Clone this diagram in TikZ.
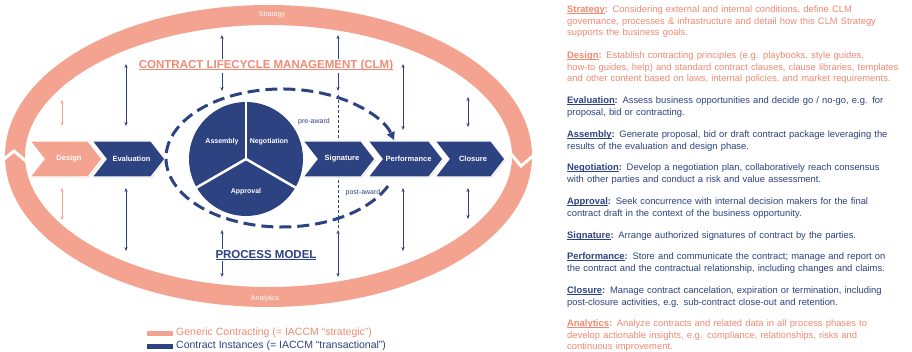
\documentclass[tikz,border=0pt]{standalone}
\usepackage{fontspec}
\setmainfont{Liberation Sans}
\usetikzlibrary{arrows.meta,shadows}

\definecolor{clmblue}{RGB}{45,66,128}
\definecolor{clmband}{RGB}{243,163,144}
\definecolor{clmrose}{RGB}{240,138,115}

% underline set just below the baseline
\newcommand\clmul[2][0.6pt]{\leavevmode\setbox0=\hbox{#2}\rlap{\rule[-1.4pt]{\wd0}{#1}}\box0}

% one chevron of the process row: #1 node name, #2 left x, #3 tip x, #4 fill, #5 label
\newcommand\clmstep[5]{%
  \path[stepshape, fill=#4] (#2,141) -- ({#3-14},141) -- (#3,159) -- ({#3-14},177)
        -- (#2,177) -- ({#2+14},159) -- cycle;
  \node[steplabel] (#1) at ({(#2+#3)/2+3},159) {#5};
}

\begin{document}
\begin{tikzpicture}[x=1pt,y=-1pt,
  stepshape/.style={draw=white, line width=1.2pt,
    drop shadow={shadow xshift=0.8pt, shadow yshift=-1.2pt, opacity=0.25}},
  steplabel/.style={text=white, font=\fontsize{7.5}{8.5}\selectfont\bfseries, inner sep=0pt},
  pielabel/.style={text=white, font=\fontsize{7}{8}\selectfont\bfseries, inner sep=0pt},
  small/.style={font=\fontsize{7}{8}\selectfont, inner sep=0pt},
  link/.style={<->, >={Stealth[length=4pt,width=3.2pt]}, line width=0.8pt, draw=clmblue},
  linkrose/.style={link, draw=clmband},
  flow/.style={draw=clmblue, line width=3pt, dash pattern=on 12pt off 6pt,
    -{Triangle[length=8pt,width=8pt]}},
  divider/.style={draw=clmblue, line width=0.7pt, dash pattern=on 3pt off 2pt},
  heading/.style={font=\fontsize{11.5}{13}\selectfont\bfseries, inner sep=1.5pt, fill=white},
  para/.style={anchor=base west, text width=350pt, align=left, inner sep=0pt,
    font=\fontsize{9.4}{11.6}\selectfont},
  legend/.style={anchor=west, inner sep=0pt, font=\fontsize{10.5}{12}\selectfont}]

\fill[white] (0,0) rectangle (912,352);
\useasboundingbox (0,0) rectangle (912,352);

% outer strategic cycle
\draw[clmband, line width=20pt] (268.5,156) ellipse [x radius=253.5, y radius=141];
\draw[white, line width=3pt] (3,160) -- (14,151) -- (27,162);
\draw[white, line width=3pt] (511,154) -- (521,166) -- (534,155);
\node[small, text=white] (strategy) at (272,15) {Strategy};
\node[small, text=white] (analytics) at (265,299) {Analytics};

% pre-award / post-award divider
\coordinate (div-a) at (338,95);
\coordinate (div-b) at (338,228);
\draw[divider] (div-a) -- (div-b);

% process row
\clmstep{design}{30}{102}{clmband}{Design}
\clmstep{evaluation}{92}{165}{clmblue}{Evaluation}
\clmstep{signature}{303}{375}{clmblue}{Signature}
\clmstep{performance}{368}{443}{clmblue}{Performance}
\clmstep{closure}{435}{505}{clmblue}{Closure}

% pie of the negotiation loop
\node[circle, fill=clmblue, minimum size=114pt, inner sep=0pt] (pie) at (246,159) {};
\draw[white, line width=2.5pt] (pie.center) -- (pie.90);
\draw[white, line width=2.5pt] (pie.center) -- (pie.210);
\draw[white, line width=2.5pt] (pie.center) -- (pie.330);
\node[pielabel] (assembly) at (222,142) {Assembly};
\node[pielabel] (negotiation) at (269,142) {Negotiation};
\node[pielabel] (approval) at (246,192) {Approval};

% iteration loop running into performance
\coordinate (loop-c) at (282,158);
\draw[flow] (loop-c) ++(24:116 and 69) arc[start angle=24, end angle=345, x radius=116, y radius=69];
\node[small, text=clmblue] (preaward) at (314,122) {pre-award};
\node[small, text=clmblue] (postaward) at (363,193) {post-award};

% vertical links to the strategic cycle
\foreach \nm/\x/\ya/\yb in {evtop/126/64/126, evbot/126/188/251, pietop/222/35/91,
    piebot/222/230/277, sigtop/338/35/91, sigbot/338/230/277, perftop/403/64/130,
    perfbot/403/188/251, clotop/468/97/127, clobot/468/188/219} {
  \coordinate (\nm-a) at (\x,\ya);
  \coordinate (\nm-b) at (\x,\yb);
  \draw[link] (\nm-a) -- (\nm-b);
}
\foreach \nm/\x/\ya/\yb in {destop/62/100/126, desbot/62/188/220} {
  \coordinate (\nm-a) at (\x,\ya);
  \coordinate (\nm-b) at (\x,\yb);
  \draw[linkrose] (\nm-a) -- (\nm-b);
}

% titles
\node[heading, text=clmrose] (clm) at (266,66) {\clmul[0.9pt]{CONTRACT LIFECYCLE MANAGEMENT (CLM)}};
\node[heading, text=clmblue] (model) at (266,255) {\clmul[0.9pt]{PROCESS MODEL}};

% legend
\fill[clmband] (147,330.5) rectangle (173,335.5);
\fill[clmblue] (147,343.5) rectangle (173,348.5);
\node[legend, text=clmrose] (leg1) at (176,333) {Generic Contracting (= IACCM “strategic”)};
\node[legend, text=clmblue] (leg2) at (176,346) {Contract Instances (= IACCM “transactional”)};

% phase descriptions
\node[para, text=clmrose] (t-strategy) at (567,12.5) {\textbf{\clmul{Strategy}:} Considering external and internal conditions, define CLM\\
governance, processes \& infrastructure and detail how this CLM Strategy\\
supports the business goals.};
\node[para, text=clmrose] (t-design) at (567,58.5) {\textbf{\clmul{Design}:} Establish contracting principles (e.g. playbooks, style guides,\\
how-to guides, help) and standard contract clauses, clause libraries, templates\\
and other content based on laws, internal policies, and market requirements.};
\node[para, text=clmblue] (t-evaluation) at (567,103.5) {\textbf{\clmul{Evaluation}:} Assess business opportunities and decide go / no-go, e.g. for\\
proposal, bid or contracting.};
\node[para, text=clmblue] (t-assembly) at (567,137.5) {\textbf{\clmul{Assembly}:} Generate proposal, bid or draft contract package leveraging the\\
results of the evaluation and design phase.};
\node[para, text=clmblue] (t-negotiation) at (567,170.5) {\textbf{\clmul{Negotiation}:} Develop a negotiation plan, collaboratively reach consensus\\
with other parties and conduct a risk and value assessment.};
\node[para, text=clmblue] (t-approval) at (567,204.5) {\textbf{\clmul{Approval}:} Seek concurrence with internal decision makers for the final\\
contract draft in the context of the business opportunity.};
\node[para, text=clmblue] (t-signature) at (567,238.5) {\textbf{\clmul{Signature}:} Arrange authorized signatures of contract by the parties.};
\node[para, text=clmblue] (t-performance) at (567,259.5) {\textbf{\clmul{Performance}:} Store and communicate the contract; manage and report on\\
the contract and the contractual relationship, including changes and claims.};
\node[para, text=clmblue] (t-closure) at (567,293.5) {\textbf{\clmul{Closure}:} Manage contract cancelation, expiration or termination, including\\
post-closure activities, e.g. sub-contract close-out and retention.};
\node[para, text=clmrose] (t-analytics) at (567,326.5) {\textbf{\clmul{Analytics}:} Analyze contracts and related data in all process phases to\\
develop actionable insights, e.g. compliance, relationships, risks and\\
continuous improvement.};
\end{tikzpicture}
\end{document}
